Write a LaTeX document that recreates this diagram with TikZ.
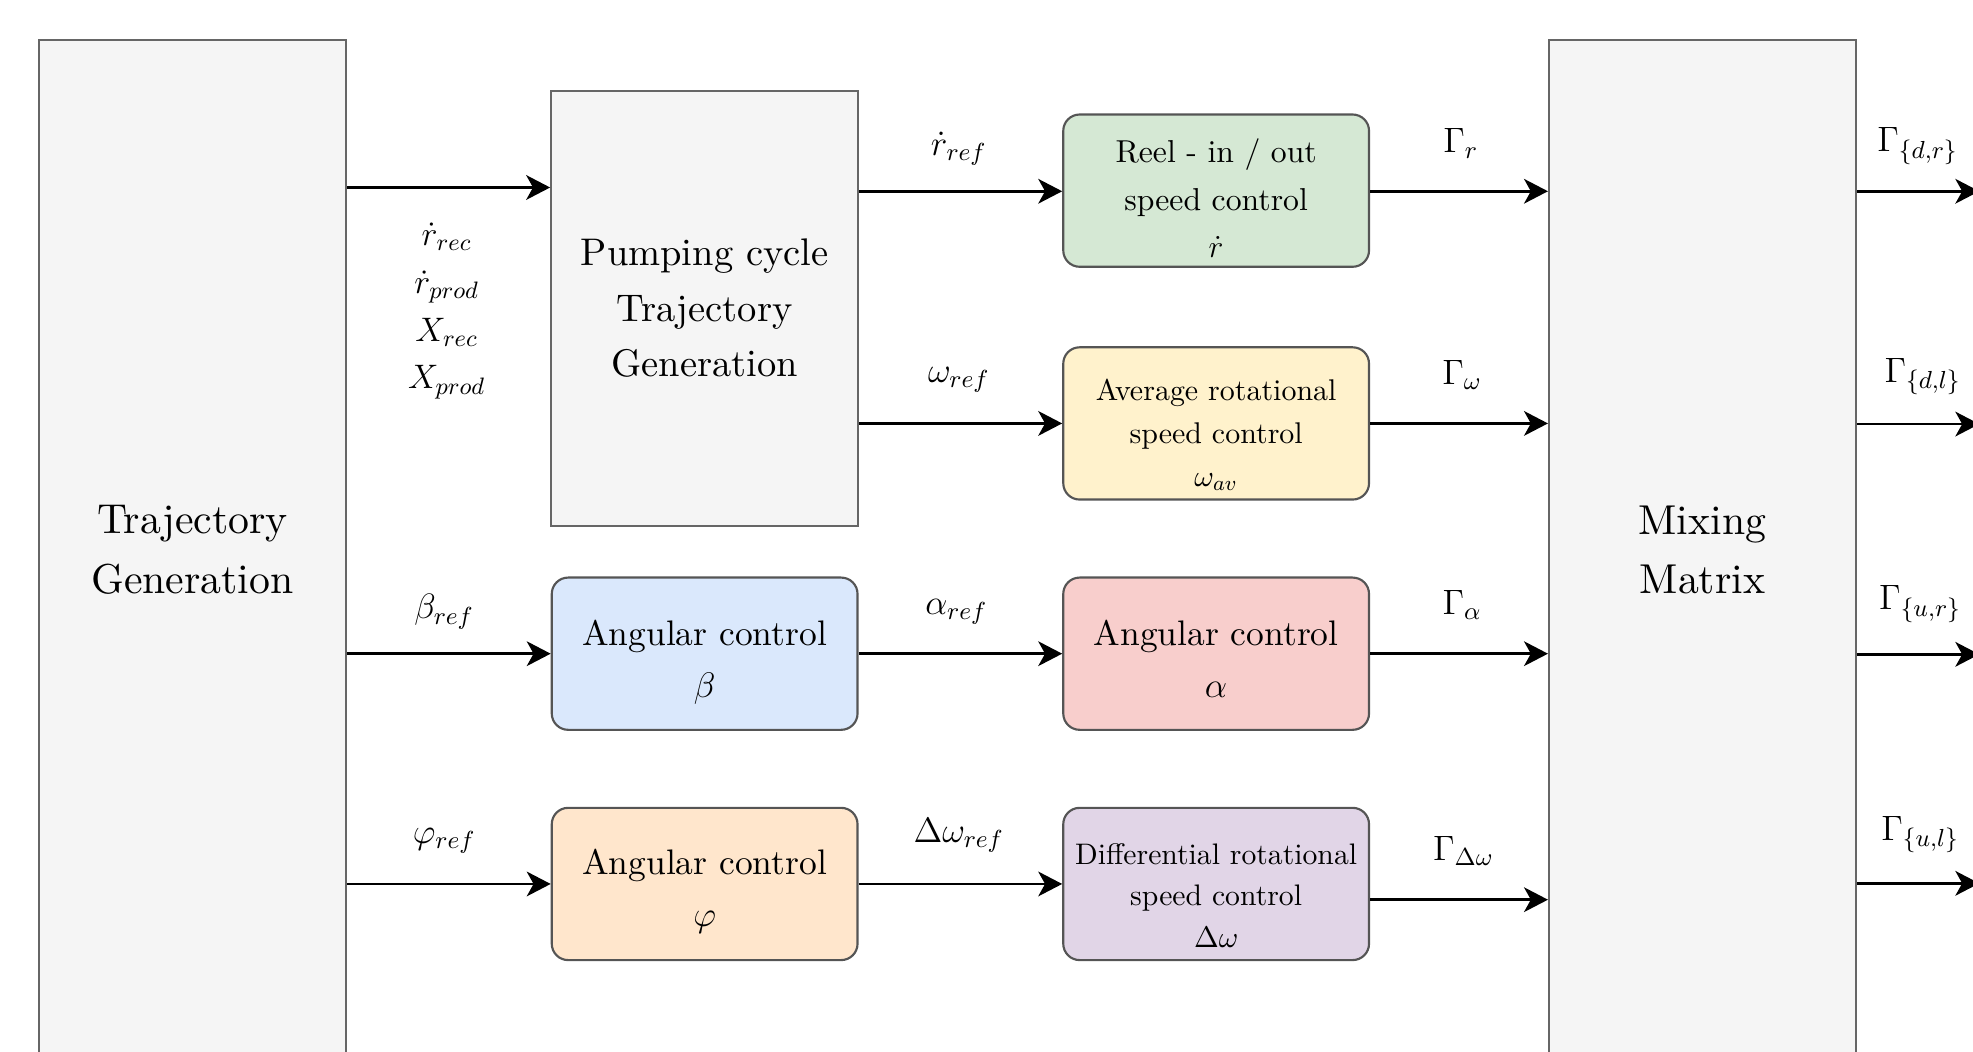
\RequirePackage{fix-cm}
\documentclass[tikz,border=0pt]{standalone}
\usepackage{fontspec}
\setmainfont{lmroman10-regular.otf}[BoldFont=lmroman10-bold.otf, ItalicFont=lmroman10-italic.otf]
\usetikzlibrary{arrows.meta}

\definecolor{gfill}{HTML}{F5F5F5}
\definecolor{gborder}{HTML}{666666}
\definecolor{cborder}{HTML}{555555}
\definecolor{cgreen}{HTML}{D5E8D4}
\definecolor{cyellow}{HTML}{FFF2CC}
\definecolor{cblue}{HTML}{DAE8FC}
\definecolor{cred}{HTML}{F8CECC}
\definecolor{corange}{HTML}{FFE6CC}
\definecolor{cpurple}{HTML}{E1D5E7}

\newcommand\bigtxt{\fontsize{16.6}{23.5}\selectfont}
\newcommand\pumptxt{\fontsize{15.3}{22}\selectfont}
\newcommand\angtxt{\fontsize{14.1}{20.5}\selectfont}
\newcommand\reeltxt{\fontsize{12.6}{18.8}\selectfont}
\newcommand\smalltxt{\fontsize{11.9}{17}\selectfont}
\newcommand\difftxt{\fontsize{11.8}{16.5}\selectfont}
\newcommand\lbltxt{\fontsize{14}{18.75}\selectfont}

\tikzset{
  gbox/.style={draw=gborder, fill=gfill, line width=0.8pt, inner sep=0pt,
    align=center, minimum width=122pt},
  cbox/.style={draw=cborder, line width=0.85pt, rounded corners=6.5pt, inner sep=0pt,
    minimum width=121.5pt, minimum height=60.5pt},
  ctext/.style={inner sep=0pt, align=center},
  arr/.style={line width=1.1pt, -{Stealth[length=9.5pt,width=9.8pt,inset=2.7pt]}},
  lbl/.style={inner sep=0pt, align=center, font=\lbltxt}
}

\begin{document}
\begin{tikzpicture}[x=0.5pt,y=-0.5pt]
\useasboundingbox (0,0) rectangle (1568,836);
\clip (0,0) rectangle (1568,836);

% large grey blocks
\node[gbox, minimum height=405pt, font=\bigtxt] (traj) at (153,437) {Trajectory\\Generation};
\node[gbox, minimum height=405pt, font=\bigtxt] (mix) at (1353,437) {Mixing\\Matrix};
\node[gbox, minimum height=173pt, font=\pumptxt] (pump) at (560,245) {Pumping cycle\\Trajectory\\Generation};

% controller blocks
\node[cbox, fill=cblue] (beta) at (560,519.5) {};
\node[ctext, font=\angtxt, yshift=-3.5pt] (betatx) at (beta) {Angular control\\$\beta$};
\node[cbox, fill=corange] (phi) at (560,702.5) {};
\node[ctext, font=\angtxt, yshift=-3pt] (phitx) at (phi) {Angular control\\$\varphi$};

\node[cbox, fill=cgreen] (reel) at (966.5,151.5) {};
\node[ctext, font=\reeltxt, yshift=-3pt] (reeltx) at (reel) {Reel - in / out\\speed control\\$\dot{r}$};
\node[cbox, fill=cyellow] (avg) at (966.5,336.5) {};
\node[ctext, font=\smalltxt, yshift=-4.5pt] (avgtx) at (avg) {Average rotational\\speed control\\$\omega_{av}$};
\node[cbox, fill=cred] (alpha) at (966.5,519.5) {};
\node[ctext, font=\angtxt, yshift=-2pt] (alphatx) at (alpha) {Angular control\\$\alpha$};
\node[cbox, fill=cpurple] (diff) at (966.5,702.5) {};
\node[ctext, font=\difftxt, yshift=-4.5pt] (difftx) at (diff) {Differential rotational\\speed control\\$\Delta\omega$};

% signal levels
\coordinate (y0) at (0,149);
\coordinate (y1) at (0,152);
\coordinate (y2) at (0,336.5);
\coordinate (y3) at (0,519.5);
\coordinate (y4) at (0,702.5);
\coordinate (y5) at (0,715);

% free ends of the outputs
\coordinate (o1) at (1573,152);
\coordinate (o2) at (1573,337);
\coordinate (o3) at (1573,520);
\coordinate (o4) at (1573,702);

% connectors
\draw[arr] (traj.east |- y0) -- (pump.west |- y0);
\draw[arr] (traj.east |- y3) -- (beta.west);
\draw[arr] (traj.east |- y4) -- (phi.west);

\draw[arr] (pump.east |- y1) -- (reel.west |- y1);
\draw[arr] (pump.east |- y2) -- (avg.west);
\draw[arr] (beta.east) -- (alpha.west);
\draw[arr] (phi.east) -- (diff.west);

\draw[arr] (reel.east |- y1) -- (mix.west |- y1);
\draw[arr] (avg.east) -- (mix.west |- y2);
\draw[arr] (alpha.east) -- (mix.west |- y3);
\draw[arr] (diff.east |- y5) -- (mix.west |- y5);

\draw[arr] (mix.east |- o1) -- (o1);
\draw[arr] (mix.east |- o2) -- (o2);
\draw[arr] (mix.east |- o3) -- (o3);
\draw[arr] (mix.east |- o4) -- (o4);

% signal labels
\node[lbl, font=\fontsize{13.5}{19}\selectfont] (lpump) at (355,247)
  {$\dot{r}_{rec}$\\$\dot{r}_{prod}$\\$X_{rec}$\\$X_{prod}$};
\node[lbl] (lbeta) at (353,486) {$\beta_{ref}$};
\node[lbl] (lphi) at (353,668) {$\varphi_{ref}$};

\node[lbl] (lrdot) at (762,118) {$\dot{r}_{ref}$};
\node[lbl] (lomega) at (762,302) {$\omega_{ref}$};
\node[lbl] (lalpha) at (760,486) {$\alpha_{ref}$};
\node[lbl] (ldomega) at (762,664) {$\Delta\omega_{ref}$};

\node[lbl] (gr) at (1161,114) {$\Gamma_{r}$};
\node[lbl] (gw) at (1162,298) {$\Gamma_{\omega}$};
\node[lbl] (ga) at (1162,481) {$\Gamma_{\alpha}$};
\node[lbl] (gdw) at (1163,676) {$\Gamma_{\Delta\omega}$};

\node[lbl] (gdr) at (1524,116) {$\Gamma_{\{d,r\}}$};
\node[lbl] (gdl) at (1528,299) {$\Gamma_{\{d,l\}}$};
\node[lbl] (gur) at (1526,480) {$\Gamma_{\{u,r\}}$};
\node[lbl] (gul) at (1526,663) {$\Gamma_{\{u,l\}}$};
\end{tikzpicture}
\end{document}
